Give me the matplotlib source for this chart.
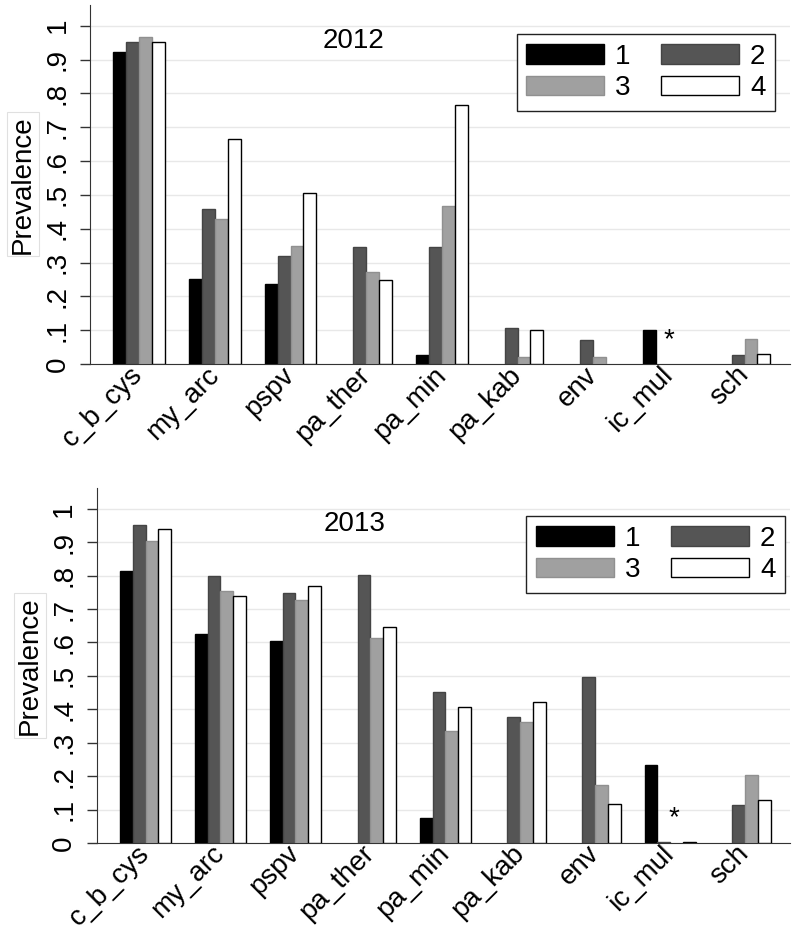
import numpy as np
import matplotlib.pyplot as plt

plt.rcParams['font.family'] = ['Liberation Sans', 'DejaVu Sans']

categories = ['c_b_cys', 'my_arc', 'pspv', 'pa_ther', 'pa_min', 'pa_kab', 'env', 'ic_mul', 'sch']
series_names = ['1', '2', '3', '4']

# prevalence per group, 2012
v2012_1 = [0.923, 0.251, 0.237, 0.0, 0.027, 0.0, 0.0, 0.100, 0.0]
v2012_2 = [0.953, 0.459, 0.320, 0.346, 0.346, 0.107, 0.071, 0.0, 0.027]
v2012_3 = [0.967, 0.429, 0.349, 0.272, 0.467, 0.020, 0.020, 0.0, 0.074]
v2012_4 = [0.953, 0.666, 0.506, 0.249, 0.766, 0.100, 0.0, 0.0, 0.030]

# prevalence per group, 2013
v2013_1 = [0.815, 0.624, 0.603, 0.0, 0.075, 0.0, 0.0, 0.233, 0.0]
v2013_2 = [0.952, 0.800, 0.749, 0.803, 0.451, 0.376, 0.497, 0.003, 0.113]
v2013_3 = [0.904, 0.755, 0.728, 0.612, 0.334, 0.361, 0.172, 0.0, 0.204]
v2013_4 = [0.940, 0.740, 0.770, 0.645, 0.406, 0.421, 0.116, 0.003, 0.128]

star_2012 = 0.071
star_2013 = 0.075

fill = ['#000000', '#555555', '#a0a0a0', '#ffffff']
edge = ['#000000', '#444444', '#909090', '#000000']


def draw(ax, series, title, title_x, star_y, star_dx, leg_anchor):
    x = np.arange(len(categories))
    w = 0.17
    handles = []
    for i, vals in enumerate(series):
        vals = np.array(vals)
        keep = vals > 0
        ax.bar(x[keep] + (i - 1.5) * w, vals[keep], w, color=fill[i], edgecolor=edge[i],
               linewidth=1.0, zorder=3)
        handles.append(plt.Rectangle((0, 0), 1, 1, fc=fill[i], ec=edge[i], lw=1.0))
    ax.text(7 + star_dx, star_y, '*', fontsize=20, ha='center', va='center')
    ax.set_xlim(-0.65, 8.6)
    ax.set_ylim(0, 1.062)
    ax.set_yticks(np.arange(0, 1.01, 0.1))
    ax.set_yticklabels(['0', '.1', '.2', '.3', '.4', '.5', '.6', '.7', '.8', '.9', '1'],
                       rotation=90, va='center', fontsize=20)
    ax.set_xticks(x)
    ax.set_xticklabels(categories, rotation=45, ha='right', va='center',
                       rotation_mode='anchor', fontsize=20)
    ax.tick_params(axis='x', length=0, pad=5)
    ax.tick_params(axis='y', length=7, width=1, color='#333333', pad=7)
    ax.grid(axis='y', color='#e8e8e8', linewidth=1, zorder=0)
    ax.spines['top'].set_visible(False)
    ax.spines['right'].set_visible(False)
    ax.spines['left'].set_color('#333333')
    ax.spines['bottom'].set_color('#333333')
    ax.set_ylabel('Prevalence', fontsize=20, labelpad=6,
                  bbox=dict(boxstyle='square,pad=0.1', fc='white', ec='#e0e0e0', lw=0.8))
    ax.text(title_x, 0.9, title, transform=ax.transAxes, ha='center', va='center', fontsize=20)
    # row-major order: 1 2 / 3 4
    order = [0, 2, 1, 3]
    leg = ax.legend([handles[k] for k in order], [series_names[k] for k in order],
                    ncol=2, loc='upper right', bbox_to_anchor=leg_anchor, fontsize=20,
                    fancybox=False, edgecolor='#222222', framealpha=1,
                    handlelength=2.8, handleheight=0.7, columnspacing=1.1,
                    handletextpad=0.4, borderpad=0.35, labelspacing=0.2,
                    borderaxespad=0)
    leg.get_frame().set_linewidth(1.0)


fig = plt.figure(figsize=(8, 9.36), dpi=100)
ax1 = fig.add_axes([0.1125, 0.611, 0.875, 0.384])
ax2 = fig.add_axes([0.121, 0.0994, 0.8665, 0.3792])

draw(ax1, [v2012_1, v2012_2, v2012_3, v2012_4], '2012', 0.377, star_2012, 0.0, (0.979, 0.919))
draw(ax2, [v2013_1, v2013_2, v2013_3, v2013_4], '2013', 0.372, star_2013, 0.05, (0.993, 0.921))

fig.savefig('out.png', dpi=100)
